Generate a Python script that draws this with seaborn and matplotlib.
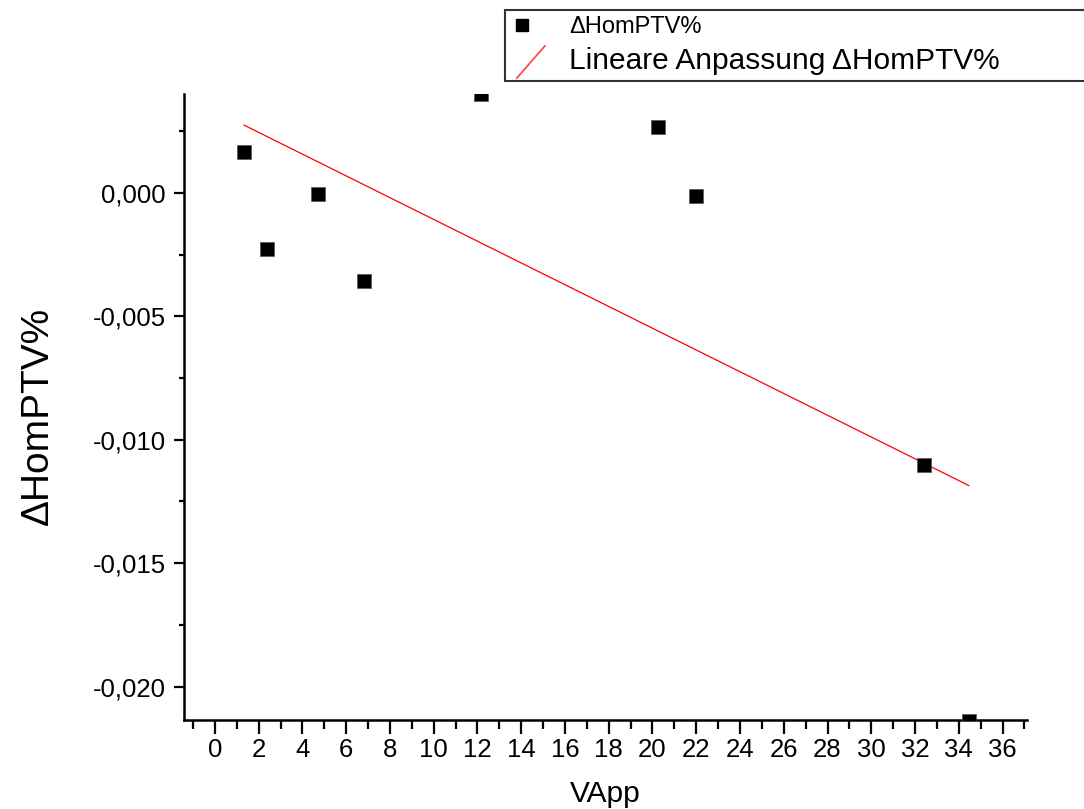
import numpy as np
import pandas as pd
import matplotlib
matplotlib.use("Agg")
import matplotlib.pyplot as plt
import seaborn as sns
from matplotlib.lines import Line2D
from matplotlib.legend_handler import HandlerBase
from matplotlib.ticker import MultipleLocator, FuncFormatter

# ---- data ----
vapp = [1.32, 2.38, 4.72, 6.80, 12.14, 20.26, 21.97, 32.43, 34.47]
dhom = [0.00165, -0.00227, -0.00006, -0.00356, 0.00398, 0.00265, -0.00015, -0.01104, -0.02140]
series_label = "\u0394HomPTV%"
fit_label = "Lineare Anpassung \u0394HomPTV%"
x_label = "VApp"
y_label = "\u0394HomPTV%"

df = pd.DataFrame({"VApp": vapp, "dHom": dhom})

# linear fit
slope, intercept = np.polyfit(df["VApp"], df["dHom"], 1)
fit_x = np.array([df["VApp"].min(), df["VApp"].max()])
fit_df = pd.DataFrame({"VApp": fit_x, "fit": intercept + slope * fit_x})

sns.set_style("ticks")
plt.rcParams["font.family"] = ["Liberation Sans", "DejaVu Sans"]
plt.rcParams["text.color"] = "black"
plt.rcParams["axes.labelcolor"] = "black"
plt.rcParams["xtick.color"] = "black"
plt.rcParams["ytick.color"] = "black"

fig = plt.figure(figsize=(10.84, 8.09), dpi=100)
ax = fig.add_axes([0.16974, 0.11063, 0.77768, 0.77318])

sns.scatterplot(data=df, x="VApp", y="dHom", ax=ax, marker="s", s=90,
                color="black", edgecolor="#555555", linewidth=0.5, legend=False, zorder=3)
sns.lineplot(data=fit_df, x="VApp", y="fit", ax=ax, color="#ff0000", linewidth=0.9,
             legend=False, zorder=2)

ax.set_xlim(-1.417, 37.12)
ax.set_ylim(-0.02133, 0.004)

ax.xaxis.set_major_locator(MultipleLocator(2))
ax.xaxis.set_minor_locator(MultipleLocator(1))
ax.yaxis.set_major_locator(MultipleLocator(0.005))
ax.yaxis.set_minor_locator(MultipleLocator(0.0025))

def yfmt(v, pos):
    v = round(v, 6)
    if abs(v) < 1e-9:
        v = 0.0
    return ("%.3f" % v).replace(".", ",")

ax.yaxis.set_major_formatter(FuncFormatter(yfmt))
ax.xaxis.set_major_formatter(FuncFormatter(lambda v, p: "%d" % round(v)))

for s in ["top", "right"]:
    ax.spines[s].set_visible(False)
for s in ["left", "bottom"]:
    ax.spines[s].set_linewidth(1.8)
    ax.spines[s].set_color("black")

ax.tick_params(axis="x", which="major", direction="out", length=10, width=1.6,
               labelsize=18.5, pad=3, color="black", labelcolor="black")
ax.tick_params(axis="x", which="minor", direction="out", length=6.5, width=1.6, color="black")
ax.tick_params(axis="y", which="major", direction="out", length=7, width=1.6,
               labelsize=18.5, pad=6, color="black", labelcolor="black")
ax.tick_params(axis="y", which="minor", direction="out", length=3.5, width=1.6, color="black")

ax.set_xlabel(x_label, fontsize=21.5, color="black")
ax.set_ylabel(y_label, fontsize=28, color="black")
ax.xaxis.set_label_coords(0.5, -0.097)
ax.yaxis.set_label_coords(-0.152, 0.485)


class MarkerHandler(HandlerBase):
    def create_artists(self, legend, orig_handle, xdescent, ydescent, width, height, fontsize, trans):
        m = Line2D([-xdescent + 0.3 * width], [-ydescent + 0.5 * height], marker="s",
                   markersize=9.0, color="black", linestyle="none", transform=trans)
        return [m]


class DiagHandler(HandlerBase):
    def create_artists(self, legend, orig_handle, xdescent, ydescent, width, height, fontsize, trans):
        l = Line2D([-xdescent + 0.15 * width, -xdescent + 0.95 * width],
                   [-ydescent - 0.6 * height, -ydescent + 1.5 * height],
                   color="#ff0000", linewidth=1.3, alpha=0.7, transform=trans)
        return [l]


h1 = Line2D([], [], marker="s", color="black", linestyle="none")
h2 = Line2D([], [], color="#ff0000")
leg = fig.legend([h1, h2], [series_label, fit_label], loc="upper left",
                 bbox_to_anchor=(505 / 1084, 1 - 10 / 809, 620 / 1084, 0.0),
                 mode="expand", borderaxespad=0, fontsize=16, borderpad=0.28,
                 handlelength=1.6, handletextpad=1.0, labelspacing=0.4,
                 frameon=True, fancybox=False, shadow=False,
                 handler_map={h1: MarkerHandler(), h2: DiagHandler()})
leg.get_frame().set_edgecolor("#333333")
leg.get_frame().set_linewidth(1.5)
leg.get_frame().set_alpha(1)
for t in leg.get_texts():
    t.set_color("black")
leg.get_texts()[0].set_fontsize(17)
leg.get_texts()[1].set_fontsize(21.5)

fig.savefig("out.png", dpi=100)
